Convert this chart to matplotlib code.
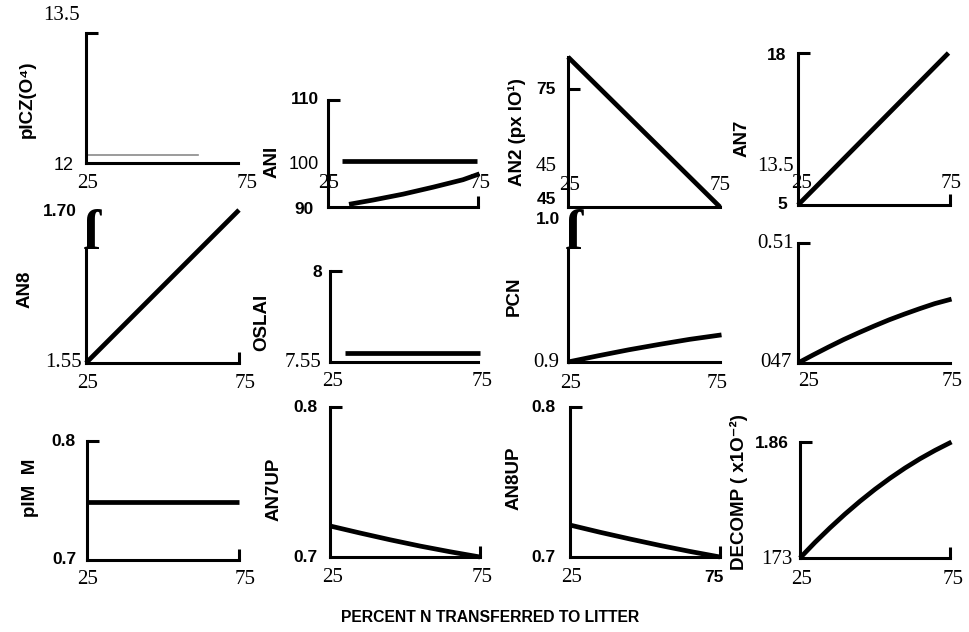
import matplotlib
matplotlib.use('Agg')
import matplotlib.pyplot as plt

W, H = 969, 632

# ---------------- data ----------------
pczo_x = [25, 75];              pczo_y = [12.0, 12.0]
pczo_gray_x = [25.7, 61.8];     pczo_gray_y = [12.09, 12.09]
ani_flat_x = [29.7, 74.7];      ani_flat_y = [98.6, 98.6]
ani_x = [32, 40, 50, 60, 70, 75.5]
ani_y = [90.5, 91.3, 92.4, 93.7, 95.1, 96.2]
an2_x = [25, 75];               an2_y = [87.5, 29.0]
an7_x = [25, 74.5];             an7_y = [5.0, 18.0]
an8_x = [25, 75];               an8_y = [1.55, 1.70]
oslai_x = [30.1, 75.7];         oslai_y = [7.594, 7.594]
pcn_x = [25, 35, 45, 55, 65, 75.5]
pcn_y = [0.900, 0.9042, 0.9082, 0.9118, 0.9152, 0.9182]
p8_x = [25, 30, 35, 40, 45, 50, 55, 60, 65, 70, 75.5]
p8_y = [0.470, 0.4727, 0.4753, 0.4778, 0.4801, 0.4823, 0.4844, 0.4863, 0.4881, 0.4898, 0.4913]
pim_x = [25, 75];               pim_y = [0.749, 0.749]
an7up_x = [25, 35, 45, 55, 65, 75]
an7up_y = [0.7207, 0.7160, 0.7115, 0.7073, 0.7035, 0.7000]
an8up_x = [25, 35, 45, 55, 65, 75]
an8up_y = [0.7213, 0.7165, 0.7120, 0.7077, 0.7037, 0.7000]
decomp_x = [25, 30, 35, 40, 45, 50, 55, 60, 65, 70, 75.5]
decomp_y = [1.730, 1.7475, 1.7638, 1.7792, 1.7936, 1.8070, 1.8194, 1.8308, 1.8412, 1.8506, 1.860]

ylims = [(12, 13.5), (90, 110), (29.0, 87.5), (5, 18),
         (1.55, 1.70), (7.55, 8.0), (0.9, 1.0), (0.47, 0.51),
         (0.7, 0.8), (0.7, 0.8), (0.7, 0.8), (1.73, 1.86)]

ylabels = ["pICZ(O⁴)", "ANI", "AN2 (px IO¹)", "AN7",
           "AN8", "OSLAI", "PCN", "",
           "pIM  M", "AN7UP", "AN8UP", "DECOMP ( x1O⁻²)"]

# tick label texts per panel
tick_texts = [["13.5", "12", "25", "75"],
              ["110", "100", "90", "25", "75"],
              ["75", "45", "25", "75", "45"],
              ["18", "13.5", "25", "75", "5"],
              ["1.70", "1.55", "25", "75"],
              ["8", "7.55", "25", "75"],
              ["1.0", "0.9", "25", "75"],
              ["0.51", "047", "25", "75"],
              ["0.8", "0.7", "25", "75"],
              ["0.8", "0.7", "25", "75"],
              ["0.8", "0.7", "25", "75"],
              ["1.86", "173", "25", "75"]]

# ---------------- layout (pixels) ----------------
boxes = [(86, 33, 238, 163), (328, 100, 478, 207), (568, 57, 720, 207), (798, 53, 950, 205),
         (86, 210, 239, 363), (330, 271, 478, 362), (568, 213, 720, 362), (798, 243, 950, 363),
         (87, 441, 239, 560), (330, 407, 480, 557), (570, 407, 720, 557), (800, 442, 950, 558)]

tick_pos = [[(61, 16, 's'), (64, 165, 'n'), (88, 184, 's'), (247, 184, 's')],
            [(305, 99, 'b'), (304, 164, 'n'), (304, 209, 'b'), (329, 184, 's'), (480, 184, 's')],
            [(546, 89, 'b'), (546, 166, 's'), (570, 185, 's'), (720, 185, 's'), (546, 200, 'b')],
            [(777, 56, 'b'), (775, 166, 's'), (802, 184, 's'), (951, 184, 's'), (782, 205, 'b')],
            [(60, 211, 'b'), (63, 363, 's'), (88, 383, 's'), (245, 383, 's')],
            [(317, 272, 'b'), (303, 362, 's'), (333, 382, 's'), (482, 382, 's')],
            [(548, 219, 'b'), (546, 363, 's'), (571, 383, 's'), (717, 383, 's')],
            [(776, 243, 's'), (776, 363, 's'), (809, 381, 's'), (952, 381, 's')],
            [(63, 442, 'b'), (64, 560, 'b'), (88, 580, 's'), (245, 580, 's')],
            [(305, 408, 'b'), (305, 558, 'b'), (333, 577, 's'), (482, 577, 's')],
            [(543, 408, 'b'), (543, 558, 'b'), (572, 577, 's'), (714, 577, 'b')],
            [(772, 443, 'b'), (777, 560, 's'), (802, 580, 's'), (953, 580, 's')]]

ylabel_pos = [(27, 99), (272, 162), (517, 132), (742, 138),
              (25, 289), (262, 322), (514, 296), None,
              (31, 488), (274, 489), (514, 478), (739, 492)]

top_hook = [True, True, False, True, False, True, False, True, True, True, True, True]
right_tick = [False, True, False, True, True, False, False, False, True, True, True, True]

SANS = ['Liberation Sans', 'DejaVu Sans']
SERIF = ['Liberation Serif', 'DejaVu Serif']

fig = plt.figure(figsize=(W / 100, H / 100), dpi=100)
fig.patch.set_facecolor('white')


def fx(px):
    return px / W


def fy(py):
    return 1 - py / H


axes = []
for i, (l, t, r, b) in enumerate(boxes):
    ax = fig.add_axes([fx(l), fy(b), (r - l) / W, (b - t) / H])
    ax.set_xlim(25, 75)
    ax.set_ylim(*ylims[i])
    ax.patch.set_alpha(0)
    for s in ('top', 'right'):
        ax.spines[s].set_visible(False)
    for s in ('left', 'bottom'):
        ax.spines[s].set_linewidth(2.2)
        ax.spines[s].set_color('black')
    ax.tick_params(axis='both', direction='in', width=2.2, labelleft=False,
                   labelbottom=False, color='black')
    ax.tick_params(axis='y', length=8.5)
    ax.tick_params(axis='x', length=8)
    ax.set_yticks([ylims[i][1]] if top_hook[i] else [])
    ax.set_xticks([75] if right_tick[i] else [])
    axes.append(ax)

LW = 3.4
kw = dict(color='black', lw=LW, solid_capstyle='butt', clip_on=False)
axes[0].plot(pczo_x, pczo_y, color='black', lw=1.8, clip_on=False)
axes[0].plot(pczo_gray_x, pczo_gray_y, color='#8a8a8a', lw=1.2, clip_on=False)
axes[1].plot(ani_flat_x, ani_flat_y, **kw)
axes[1].plot(ani_x, ani_y, **kw)
axes[2].plot(an2_x, an2_y, **kw)
axes[2].set_yticks([75])
axes[3].plot(an7_x, an7_y, **kw)
axes[4].plot(an8_x, an8_y, **kw)
axes[5].plot(oslai_x, oslai_y, **kw)
axes[6].plot(pcn_x, pcn_y, **kw)
axes[7].plot(p8_x, p8_y, **kw)
axes[8].plot(pim_x, pim_y, **kw)
axes[9].plot(an7up_x, an7up_y, **kw)
axes[10].plot(an8up_x, an8up_y, **kw)
axes[11].plot(decomp_x, decomp_y, **kw)

axes[4].spines['left'].set_bounds(1.55, 1.55 + (363 - 250) / (363 - 210) * 0.15)
axes[6].spines['left'].set_bounds(0.9, 0.9 + (362 - 250) / (362 - 213) * 0.1)
for gx in (92, 574):
    fig.text(fx(gx), fy(249), "ſ", fontsize=40, fontweight='bold', family=SERIF,
             ha='center', va='baseline')

for i in range(12):
    for (px, py, st), txt in zip(tick_pos[i], tick_texts[i]):
        if st == 's':
            fig.text(fx(px), fy(py), txt, family=SERIF, fontsize=15,
                     ha='center', va='center')
        elif st == 'b':
            fig.text(fx(px), fy(py), txt, family=SANS, fontsize=12.5,
                     fontweight='bold', ha='center', va='center')
        else:
            fig.text(fx(px), fy(py), txt, family=SANS, fontsize=13,
                     ha='center', va='center')

for i in range(12):
    if ylabel_pos[i] is None:
        continue
    px, py = ylabel_pos[i]
    fig.text(fx(px), fy(py), ylabels[i], family=SANS, fontsize=13.5,
             fontweight='bold', rotation=90, ha='center', va='center')

fig.text(fx(490), fy(617), "PERCENT N TRANSFERRED TO LITTER", family=SANS,
         fontsize=11.3, fontweight='bold', ha='center', va='center')

fig.savefig('out.png', dpi=100, facecolor='white')
